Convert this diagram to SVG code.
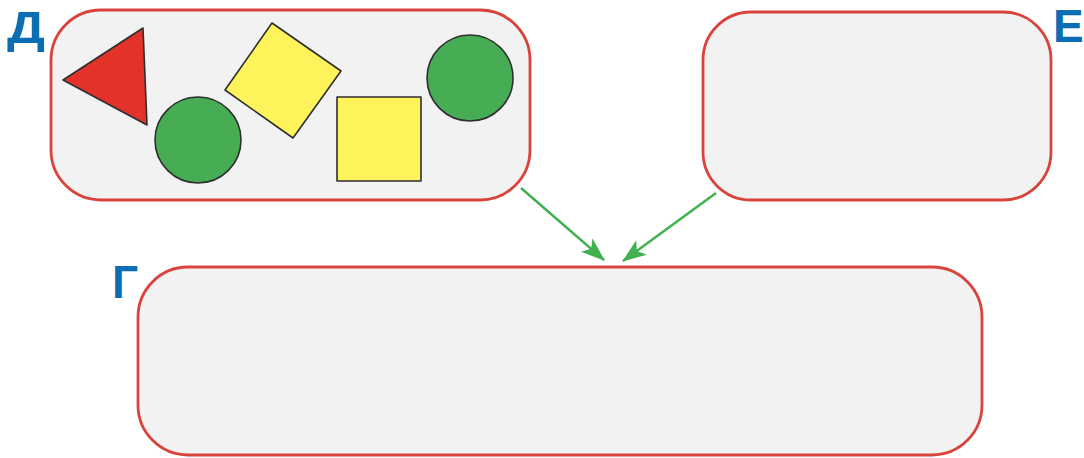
<svg xmlns="http://www.w3.org/2000/svg" width="1084" height="458" viewBox="0 0 1084 458">
<style>
.box{fill:#f2f2f2;stroke:#d9433c;stroke-width:2.8}
.lbl{font-family:"Liberation Sans",Arial,sans-serif;font-weight:bold;fill:#0b6db3}
.sh{stroke:#2e2e2e;stroke-width:1.6;stroke-linejoin:round}
.conn{stroke:#41b04f;stroke-width:2.5;fill:none}
</style>
<defs>
<marker id="ah" viewBox="0 0 24 18" refX="23" refY="9" markerWidth="24" markerHeight="18" markerUnits="userSpaceOnUse" orient="auto">
<path d="M0,0 L24,9 L0,18 L6,9 Z" fill="#41b04f"/>
</marker>
</defs>
<rect width="1084" height="458" fill="#ffffff"/>
<g id="node-D">
<rect class="box" x="51" y="10" width="479" height="190" rx="50" ry="50"/>
<text class="lbl" x="7" y="43" font-size="45" textLength="38" lengthAdjust="spacingAndGlyphs">Д</text>
<polygon class="sh" points="63,80 143,28 147,125" fill="#e2322a"/>
<circle class="sh" cx="198" cy="140" r="43" fill="#47ad55"/>
<polygon class="sh" points="272,23 341,71 293,138 225,90" fill="#fff35c"/>
<rect class="sh" x="337" y="97" width="84" height="84" fill="#fff35c"/>
<circle class="sh" cx="470" cy="78" r="43" fill="#47ad55"/>
</g>
<g id="node-E">
<rect class="box" x="703" y="12" width="348" height="188" rx="48" ry="48"/>
<text class="lbl" x="1053" y="42" font-size="46">Е</text>
</g>
<g id="node-G">
<rect class="box" x="138" y="267" width="844" height="188" rx="50" ry="50"/>
<text class="lbl" x="112" y="298" font-size="46">Г</text>
</g>
<g id="connectors">
<line class="conn" x1="521" y1="188" x2="604" y2="260" marker-end="url(#ah)"/>
<line class="conn" x1="716" y1="193" x2="623" y2="261" marker-end="url(#ah)"/>
</g>
</svg>
